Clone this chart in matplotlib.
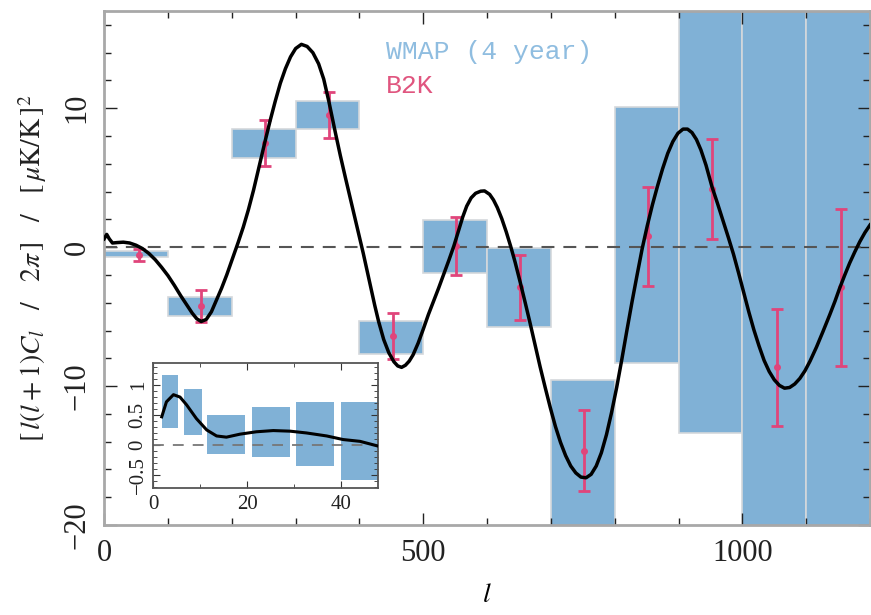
import numpy as np
import matplotlib
matplotlib.use("Agg")
import matplotlib.pyplot as plt
from matplotlib.ticker import MultipleLocator

plt.rcParams["font.family"] = ["Liberation Serif", "DejaVu Serif"]
plt.rcParams["mathtext.fontset"] = "stix"

# WMAP (4 year) band powers: boxes over bins of 100 in l
wmap_lo = [0, 100, 200, 300, 400, 500, 600, 700, 800, 900, 1000, 1100]
wmap_hi = [100, 200, 300, 400, 500, 600, 700, 800, 900, 1000, 1100, 1200]
wmap_bottom = [-0.69, -4.93, 6.42, 8.54, -7.69, -1.89, -5.77, -21, -8.37, -13.4, -21, -21]
wmap_top = [-0.26, -3.58, 8.5, 10.5, -5.3, 1.97, -0.08, -9.58, 10.06, 18, 18, 18]

# B2K points
b2k_l = [55, 152, 252, 352, 452, 551, 652, 752, 852, 953, 1054, 1155]
b2k_val = [-0.56, -4.23, 7.52, 9.52, -6.42, 0.08, -2.9, -14.65, 0.79, 4.17, -8.65, -2.9]
b2k_err = [0.4, 1.15, 1.65, 1.65, 1.65, 2.1, 2.35, 2.9, 3.55, 3.6, 4.2, 5.65]

# model curve
curve_l = [0, 4, 8, 13, 20, 30, 40, 50, 60, 70, 80, 90, 100, 110, 120, 130,
           138, 145, 152, 160, 168, 176, 184, 192, 200, 205, 210, 218, 226,
           234, 242, 252, 260, 268, 276, 284, 292, 300, 309, 318, 327, 336,
           344, 352, 362, 370, 378, 386, 394, 400, 406, 412, 418, 424, 430,
           438, 446, 454, 460, 466, 472, 478, 484, 492, 500, 508, 516, 524,
           532, 540, 548, 555, 562, 568, 575, 582, 590, 596, 604, 610, 616,
           623, 630, 637, 644, 652, 660, 667, 675, 683, 691, 699, 707, 715,
           723, 731, 739, 747, 755, 763, 771, 779, 787, 795, 803, 811, 819,
           827, 835, 843, 851, 859, 867, 875, 883, 891, 899, 907, 914, 921,
           928, 935, 943, 952, 961, 970, 978, 986, 994, 1002, 1010, 1018,
           1026, 1034, 1042, 1050, 1058, 1066, 1074, 1082, 1090, 1098, 1106,
           1116, 1126, 1137, 1145, 1152, 1160, 1168, 1176, 1184, 1192, 1200]
curve_v = [0.6, 0.92, 0.6, 0.3, 0.33, 0.36, 0.3, 0.14, -0.1, -0.45, -0.9,
           -1.45, -2.05, -2.75, -3.5, -4.2, -4.75, -5.15, -5.35, -5.2, -4.65,
           -3.8, -2.95, -2.0, -0.95, -0.3, 0.35, 1.45, 2.7, 4.1, 5.65, 7.6,
           9.1, 10.5, 11.8, 12.85, 13.7, 14.3, 14.6, 14.45, 14.0, 13.2, 12.1,
           10.5, 8.3, 6.6, 5.0, 3.45, 1.9, 0.75, -0.45, -1.7, -2.95, -4.2,
           -5.35, -6.65, -7.6, -8.25, -8.55, -8.65, -8.5, -8.2, -7.75, -6.9,
           -5.9, -4.85, -3.9, -2.95, -1.95, -0.95, 0.1, 1.15, 2.2, 2.95,
           3.55, 3.88, 4.03, 4.05, 3.8, 3.4, 2.85, 2.05, 1.1, 0.05, -1.1,
           -2.55, -4.05, -5.4, -7.0, -8.6, -10.1, -11.55, -12.9, -14.05,
           -15.0, -15.75, -16.25, -16.55, -16.6, -16.35, -15.75, -14.8,
           -13.5, -11.9, -10.1, -8.1, -6.0, -3.95, -2.0, -0.1, 1.55, 3.05,
           4.4, 5.65, 6.75, 7.6, 8.2, 8.5, 8.5, 8.25, 7.75, 7.0, 5.9, 4.4,
           3.15, 1.85, 0.7, -0.5, -1.85, -3.25, -4.65, -5.95, -7.1, -8.15,
           -8.95, -9.55, -9.95, -10.15, -10.1, -9.85, -9.45, -8.9, -8.2,
           -7.2, -6.1, -4.85, -3.9, -3.0, -2.05, -1.15, -0.35, 0.4, 1.05, 1.6]

# inset: low-l part
ins_lo = [1.8, 6.5, 11.4, 21.0, 30.4, 40.0]
ins_hi = [5.3, 10.3, 19.6, 29.2, 38.6, 48.5]
ins_bottom = [0.29, 0.17, -0.15, -0.21, -0.36, -0.58]
ins_top = [1.17, 0.94, 0.5, 0.64, 0.72, 0.72]
ins_curve_l = [1.8, 2.8, 4.3, 5.7, 7.1, 9.2, 11.4, 13.5, 15.6, 18.5, 22,
               25.6, 29.2, 32.7, 37, 40.5, 44.1, 48]
ins_curve_v = [0.47, 0.72, 0.84, 0.8, 0.67, 0.44, 0.25, 0.15, 0.13, 0.18,
               0.22, 0.24, 0.23, 0.2, 0.15, 0.09, 0.06, -0.02]

box_color = "#80b1d6"
pink = "#e0457b"

fig = plt.figure(figsize=(8.71, 6.15), dpi=100)
ax = fig.add_axes([0.1196, 0.1463, 0.8793, 0.8358])

heights = np.array(wmap_top) - np.array(wmap_bottom)
widths = np.array(wmap_hi) - np.array(wmap_lo)
ax.bar(wmap_lo, heights, width=widths, bottom=wmap_bottom, align="edge",
       color=box_color, edgecolor="#d4d8dc", linewidth=1.2, zorder=1)
ax.axhline(0, color="#555555", lw=1.5, ls=(0, (6.2, 4.3)), zorder=2)
ax.errorbar(b2k_l, b2k_val, yerr=b2k_err, fmt="o", ms=4, color=pink,
            elinewidth=2, capsize=4, capthick=2, zorder=3)
ax.plot(curve_l, curve_v, color="black", lw=2.5, zorder=4,
        solid_joinstyle="round")

ax.set_xlim(0, 1200)
ax.set_ylim(-20, 17)
ax.xaxis.set_major_locator(MultipleLocator(500))
ax.xaxis.set_minor_locator(MultipleLocator(100))
ax.yaxis.set_major_locator(MultipleLocator(10))
ax.yaxis.set_minor_locator(MultipleLocator(2))
ax.tick_params(which="both", direction="in", top=True, right=True,
               color="#222222", labelsize=22, labelcolor="#222222")
ax.tick_params(which="major", length=9, width=1)
ax.tick_params(which="minor", length=5, width=1)
ax.tick_params(axis="x", pad=10)
ax.tick_params(axis="y", pad=9)
for lab in ax.get_yticklabels():
    lab.set_rotation(90)
    lab.set_va("center")
for sp in ax.spines.values():
    sp.set_color("#a8a8a8")
    sp.set_linewidth(2)

ax.set_xlabel(r"$l$", fontsize=20, labelpad=11)
ax.set_ylabel(r"$[\,l(l+1)C_l\ \ \ /\ \ \ 2\pi\,]\ \ \ /\ \ \ [\,\mu\mathrm{K/K}\,]^2$",
              fontsize=20, color="#222222", labelpad=10)

ax.text(0.368, 0.92, "WMAP (4 year)", transform=ax.transAxes,
        family="Liberation Mono", fontsize=19, color="#8fbde0", va="center")
ax.text(0.368, 0.854, "B2K", transform=ax.transAxes,
        family="Liberation Mono", fontsize=19, color="#e0557f", va="center")

# inset
axi = fig.add_axes([0.176, 0.2065, 0.2583, 0.2033])
ih = np.array(ins_top) - np.array(ins_bottom)
iw = np.array(ins_hi) - np.array(ins_lo)
axi.bar(ins_lo, ih, width=iw, bottom=ins_bottom, align="edge",
        color=box_color, linewidth=0, zorder=1)
axi.axhline(0, color="#777777", lw=1.3, ls=(0, (6, 5)), zorder=2)
axi.plot(ins_curve_l, ins_curve_v, color="black", lw=2.2, zorder=3)
axi.set_xlim(0, 48)
axi.set_ylim(-0.72, 1.37)
axi.xaxis.set_major_locator(MultipleLocator(20))
axi.xaxis.set_minor_locator(MultipleLocator(10))
axi.yaxis.set_minor_locator(MultipleLocator(0.1))
axi.set_yticks([-0.5, 0, 0.5, 1])
axi.set_yticklabels(["\u22120.5", "0", "0.5", "1"])
axi.tick_params(which="both", direction="in", top=True, right=True,
                labelsize=15, color="#333333", labelcolor="#222222")
axi.tick_params(which="major", length=5)
axi.tick_params(which="minor", length=3)
axi.tick_params(axis="x", pad=5)
axi.tick_params(axis="y", pad=4)
for lab in axi.get_yticklabels():
    lab.set_rotation(90)
    lab.set_va("center")
for sp in axi.spines.values():
    sp.set_color("#555555")
    sp.set_linewidth(1.3)

fig.savefig("out.png", dpi=100)
